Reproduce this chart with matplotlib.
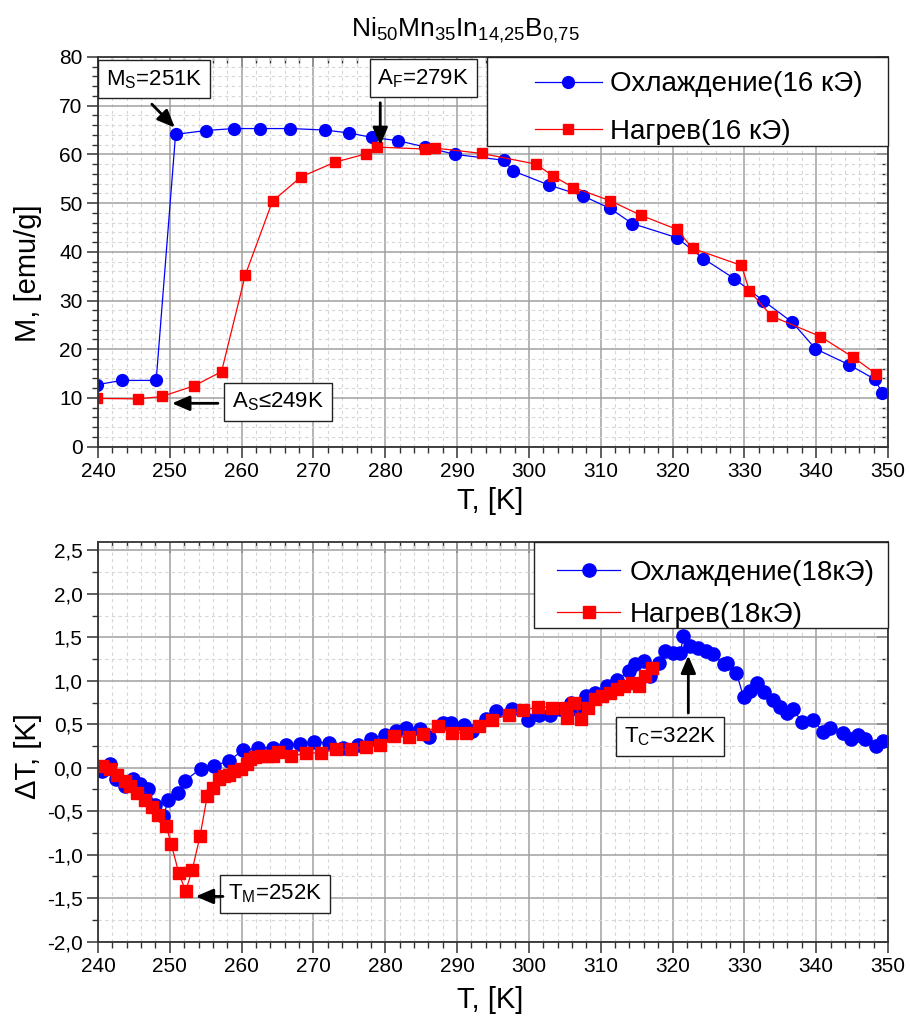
import matplotlib
matplotlib.use("Agg")
import matplotlib.pyplot as plt
from matplotlib.ticker import MultipleLocator, FuncFormatter
from matplotlib.patches import Rectangle

plt.rcParams['font.family'] = ['Liberation Sans', 'DejaVu Sans']
plt.rcParams['mathtext.default'] = 'regular'

# --- data, top panel: M(T), 16 kOe ---
T_cool16 = [239.8, 243.3, 248.1, 250.8, 255.0, 258.9, 262.6, 266.8, 271.6, 274.9,
            278.1, 281.8, 285.6, 289.7, 296.5, 297.8, 302.8, 307.5, 311.3, 314.4,
            320.6, 324.3, 328.6, 332.6, 336.7, 339.9, 344.6, 348.2, 349.2]
M_cool16 = [12.7, 13.6, 13.6, 64.1, 64.9, 65.3, 65.3, 65.3, 65.0, 64.4,
            63.5, 62.8, 61.5, 60.0, 58.8, 56.6, 53.7, 51.5, 48.9, 45.8,
            42.9, 38.6, 34.5, 30.0, 25.5, 20.1, 16.8, 13.8, 11.0]
T_heat16 = [239.9, 245.6, 248.9, 253.4, 257.2, 260.5, 264.3, 268.3, 273.0, 277.3,
            278.8, 285.5, 286.9, 293.4, 301.0, 303.3, 306.2, 311.3, 315.6, 320.6,
            322.8, 329.6, 330.7, 333.8, 340.6, 345.1, 348.3]
M_heat16 = [9.9, 9.8, 10.3, 12.5, 15.4, 35.2, 50.4, 55.4, 58.4, 60.1,
            61.5, 61.1, 61.3, 60.2, 58.0, 55.6, 53.2, 50.5, 47.5, 44.6,
            40.7, 37.2, 32.0, 26.8, 22.6, 18.4, 15.0]

# --- data, bottom panel: dT(T), 18 kOe ---
T_cool18 = [240.5, 241.7, 242.5, 243.75, 244.9, 245.9, 246.9, 248.0, 249.1, 249.8,
            251.2, 252.1, 254.3, 256.2, 258.2, 260.2, 262.3, 264.3, 266.2, 268.1,
            270.1, 272.2, 274.1, 276.2, 278.0, 279.9, 281.5, 282.9, 284.9, 286.1,
            288.0, 289.1, 291.0, 292.1, 294.0, 295.4, 297.7, 299.9, 301.4, 303.0,
            304.4, 305.8, 306.7, 307.9, 309.25, 310.9, 312.3, 313.9, 314.8, 316.0,
            316.9, 318.1, 319.0, 320.1, 321.1, 321.5, 322.4, 323.5, 324.6, 325.6,
            327.1, 327.6, 328.9, 329.9, 330.8, 331.7, 332.75, 334.0, 334.9, 335.9,
            336.8, 338.0, 339.6, 341.0, 341.9, 343.75, 344.9, 345.8, 346.8, 348.4,
            349.3]
dT_cool18 = [-0.04, 0.04, -0.13, -0.21, -0.13, -0.19, -0.24, -0.43, -0.56, -0.37,
             -0.29, -0.15, -0.01, 0.02, 0.08, 0.20, 0.23, 0.23, 0.26, 0.27,
             0.30, 0.28, 0.23, 0.26, 0.33, 0.38, 0.42, 0.46, 0.44, 0.35,
             0.52, 0.51, 0.49, 0.42, 0.56, 0.65, 0.67, 0.55, 0.61, 0.61,
             0.67, 0.75, 0.68, 0.82, 0.86, 0.94, 1.01, 1.11, 1.19, 1.23,
             1.06, 1.21, 1.34, 1.32, 1.32, 1.52, 1.40, 1.38, 1.34, 1.31,
             1.19, 1.20, 1.09, 0.81, 0.88, 0.97, 0.87, 0.78, 0.70, 0.63,
             0.67, 0.53, 0.55, 0.41, 0.46, 0.40, 0.33, 0.38, 0.33, 0.25,
             0.31]
T_heat18 = [240.5, 241.7, 242.6, 243.7, 244.4, 245.4, 246.5, 247.5, 248.4, 249.5,
            250.2, 251.25, 252.2, 253.1, 254.2, 255.2, 256.0, 256.8, 257.5, 258.3,
            259.0, 259.9, 260.7, 261.1, 261.9, 262.7, 263.6, 264.3, 265.0, 266.9,
            269.0, 271.0, 273.1, 275.2, 277.3, 279.3, 281.25, 283.3, 285.2, 287.3,
            289.3, 291.2, 293.1, 294.9, 297.2, 299.2, 301.3, 303.2, 305.2, 305.3,
            306.25, 307.3, 308.2, 309.25, 310.2, 311.3, 312.3, 313.3, 314.35, 315.3,
            316.1, 317.1]
dT_heat18 = [0.02, -0.02, -0.08, -0.15, -0.21, -0.29, -0.37, -0.45, -0.54, -0.67,
             -0.88, -1.21, -1.42, -1.18, -0.79, -0.33, -0.23, -0.13, -0.10, -0.08,
             -0.04, -0.02, 0.04, 0.10, 0.12, 0.13, 0.14, 0.13, 0.18, 0.13,
             0.17, 0.17, 0.21, 0.21, 0.24, 0.26, 0.36, 0.35, 0.39, 0.48,
             0.40, 0.40, 0.48, 0.55, 0.61, 0.66, 0.70, 0.69, 0.69, 0.57,
             0.74, 0.56, 0.69, 0.79, 0.83, 0.86, 0.90, 0.94, 0.98, 0.94,
             1.06, 1.15]

title = 'Ni$_{50}$Mn$_{35}$In$_{14{,}25}$B$_{0{,}75}$'

fig = plt.figure(figsize=(9.1, 10.28), dpi=100)
ax1 = fig.add_axes([0.1077, 0.5655, 0.8681, 0.3791])
ax2 = fig.add_axes([0.1077, 0.0840, 0.8681, 0.3891])


def style_axes(ax, ymajor, yminor):
    ax.set_xlim(240, 350)
    ax.xaxis.set_major_locator(MultipleLocator(10))
    ax.xaxis.set_minor_locator(MultipleLocator(2))
    ax.yaxis.set_major_locator(MultipleLocator(ymajor))
    ax.yaxis.set_minor_locator(MultipleLocator(yminor))
    ax.set_axisbelow(True)
    ax.grid(which='major', color='#a0a0a0', lw=1.1)
    ax.grid(which='minor', color='#d6d6d6', lw=0.8, ls=(0, (3, 3)))
    for s in ax.spines.values():
        s.set_linewidth(1.3)
        s.set_color('#333333')
    ax.tick_params(which='major', direction='out', length=8, width=1.1,
                   labelsize=15, pad=3, color='#333333')
    ax.tick_params(which='minor', direction='out', length=4, width=1.0,
                   color='#333333')
    # inner ticks on the top and right edges
    top = ax.secondary_xaxis('top')
    top.xaxis.set_major_locator(MultipleLocator(10))
    top.xaxis.set_minor_locator(MultipleLocator(2))
    top.tick_params(which='major', direction='in', length=8, width=1.1,
                    labeltop=False, color='#333333')
    top.tick_params(which='minor', direction='in', length=4, width=1.0,
                    color='#333333')
    right = ax.secondary_yaxis('right')
    right.yaxis.set_major_locator(MultipleLocator(ymajor))
    right.yaxis.set_minor_locator(MultipleLocator(yminor))
    right.tick_params(which='major', direction='in', length=8, width=1.1,
                      labelright=False, color='#333333')
    right.tick_params(which='minor', direction='in', length=4, width=1.0,
                      color='#333333')
    for sec in (top, right):
        for s in sec.spines.values():
            s.set_visible(False)


def note(ax, text, xy):
    ax.text(xy[0], xy[1], text, fontsize=16, ha='center', va='center', zorder=6,
            bbox=dict(boxstyle='square,pad=0.35', fc='white', ec='#222222', lw=1))


def arrow(ax, start, end):
    ax.annotate('', xy=end, xytext=start, zorder=6,
                arrowprops=dict(arrowstyle='-|>,head_length=0.7,head_width=0.3',
                                color='black', lw=2, mutation_scale=15,
                                shrinkA=0, shrinkB=0))


# ---------- top panel ----------
style_axes(ax1, 10, 2)
ax1.set_ylim(0, 80)
ax1.plot(T_cool16, M_cool16, '-o', color='blue', lw=0.9, ms=8.5,
         label='Охлаждение(16 кЭ)')
ax1.plot(T_heat16, M_heat16, '-s', color='red', lw=0.9, ms=7.5,
         label='Нагрев(16 кЭ)')
ax1.set_xlabel('T, [K]', fontsize=21)
ax1.set_ylabel('M, [emu/g]', fontsize=21)
ax1.xaxis.set_label_coords(0.496, -0.104)
ax1.yaxis.set_label_coords(-0.071, 0.445)

ax1.add_patch(Rectangle((0.4924, 0.7716), 0.5076, 0.2284, transform=ax1.transAxes,
                        fc='white', ec='#222222', lw=1, zorder=4.5, clip_on=False))
ax1.legend(loc='upper left', bbox_to_anchor=(0.553, 0.963), frameon=False,
           fontsize=20, borderpad=0, borderaxespad=0, handlelength=2.41,
           handletextpad=0.29, labelspacing=0.77)

note(ax1, 'M$_S$=251K', (247.8, 75.4))
arrow(ax1, (247.5, 70.3), (250.7, 65.5))
note(ax1, 'A$_F$=279K', (285.3, 75.6))
arrow(ax1, (279.3, 70.6), (279.3, 61.9))
note(ax1, 'A$_S$≤249K', (265.1, 9.2))
arrow(ax1, (256.7, 8.9), (250.3, 8.9))

# ---------- bottom panel ----------
style_axes(ax2, 0.5, 0.25)
ax2.set_ylim(-2.0, 2.6)
ax2.yaxis.set_major_formatter(FuncFormatter(lambda v, p: f'{v:.1f}'.replace('.', ',')))
ax2.plot(T_cool18, dT_cool18, '-o', color='blue', lw=0.9, ms=9.5,
         label='Охлаждение(18кЭ)')
ax2.plot(T_heat18, dT_heat18, '-s', color='red', lw=0.9, ms=8,
         label='Нагрев(18кЭ)')
ax2.set_xlabel('T, [K]', fontsize=21)
ax2.set_ylabel('ΔT, [K]', fontsize=21)
ax2.xaxis.set_label_coords(0.496, -0.11)
ax2.yaxis.set_label_coords(-0.071, 0.464)

ax2.add_patch(Rectangle((0.552, 0.784), 0.448, 0.216, transform=ax2.transAxes,
                        fc='white', ec='#222222', lw=1, zorder=4.5, clip_on=False))
ax2.legend(loc='upper left', bbox_to_anchor=(0.581, 0.955), frameon=False,
           fontsize=20, borderpad=0, borderaxespad=0, handlelength=2.27,
           handletextpad=0.36, labelspacing=0.59)

note(ax2, 'T$_M$=252K', (264.65, -1.45))
arrow(ax2, (257.4, -1.48), (253.6, -1.48))
note(ax2, 'T$_C$=322K', (319.7, 0.36))
arrow(ax2, (322.2, 0.63), (322.2, 1.29))

fig.text(0.511, 0.971, title, ha='center', va='center', fontsize=19)

fig.savefig('out.png', dpi=100)
